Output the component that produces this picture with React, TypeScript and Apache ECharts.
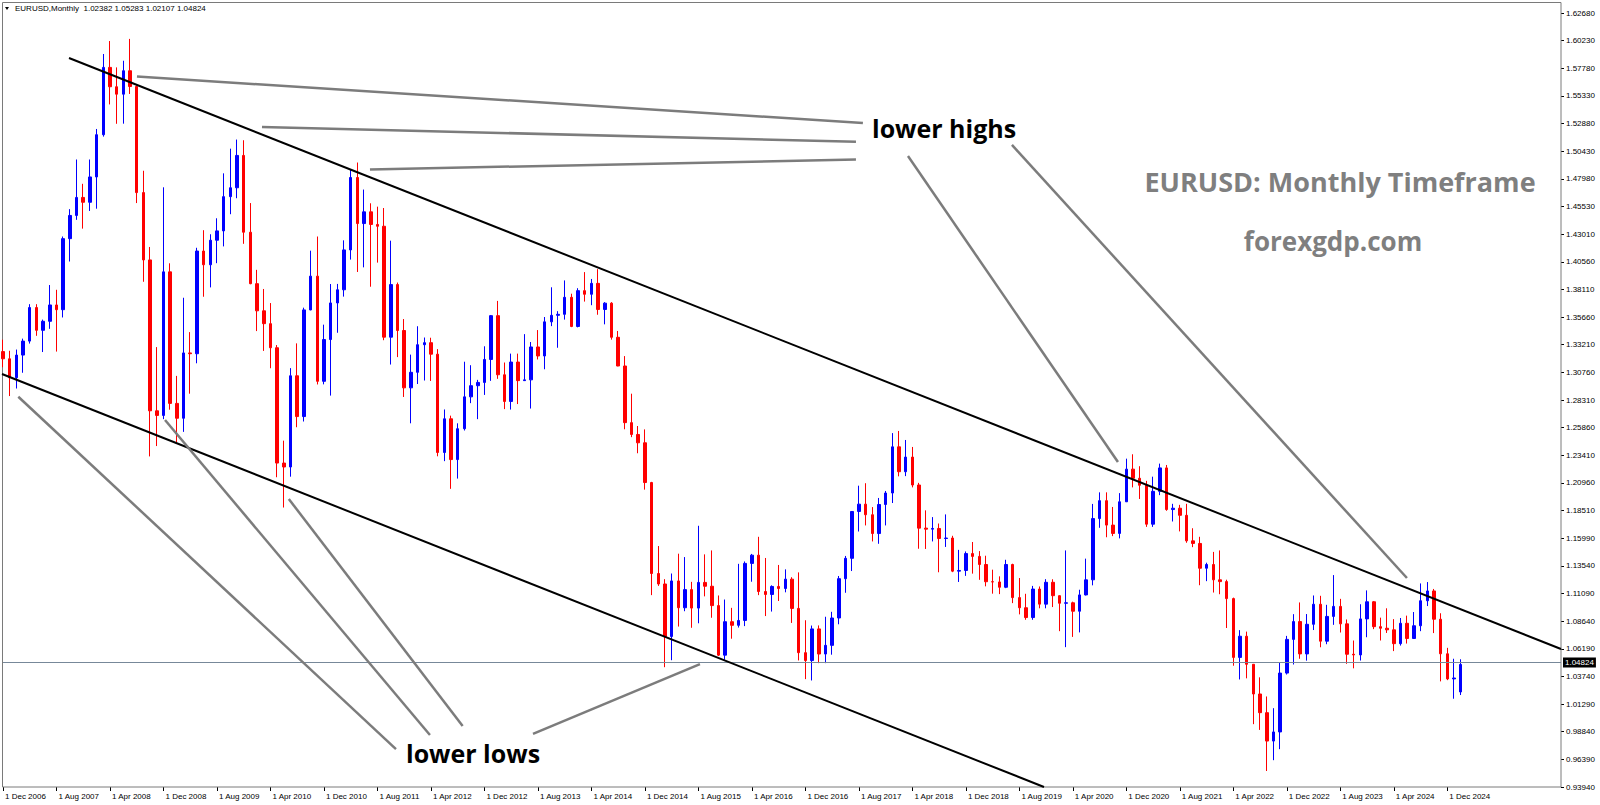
import React, { useEffect, useRef } from "react";
import * as echarts from "echarts";

// ---------- data (monthly EURUSD, Dec 2006 .. Feb 2025) ----------
const MONTH_NAMES = ["Jan", "Feb", "Mar", "Apr", "May", "Jun", "Jul", "Aug", "Sep", "Oct", "Nov", "Dec"];
const FIRST_YEAR = 2006;
const FIRST_MONTH = 11; // Dec
const SLOT_COUNT = 234; // visible month slots on the time axis

const opens = [
  1.3261,
  1.3197, 1.3029, 1.3230, 1.3354, 1.3652, 1.3450, 1.3530, 1.3675, 1.3633, 1.4264, 1.4470, 1.4630,
  1.4587, 1.4812, 1.5187, 1.5785, 1.5613, 1.5547, 1.5755, 1.5615, 1.4673, 1.4075, 1.2735, 1.2694,
  1.3969, 1.2801, 1.2669, 1.3249, 1.3242, 1.4154, 1.4032, 1.4250, 1.4333, 1.4637, 1.4716, 1.5003,
  1.4321, 1.3864, 1.3623, 1.3509, 1.3295, 1.2271, 1.2236, 1.3046, 1.2684, 1.3631, 1.3931, 1.2997,
  1.3368, 1.3693, 1.3810, 1.4164, 1.4807, 1.4398, 1.4502, 1.4390, 1.4374, 1.3389, 1.3856, 1.3448,
  1.2939, 1.3077, 1.3322, 1.3340, 1.3238, 1.2365, 1.2664, 1.2302, 1.2576, 1.2859, 1.2958, 1.2987,
  1.3191, 1.3580, 1.3055, 1.2818, 1.3168, 1.3003, 1.3010, 1.3302, 1.3222, 1.3525, 1.3583, 1.3592,
  1.3743, 1.3484, 1.3802, 1.3770, 1.3867, 1.3635, 1.3691, 1.3388, 1.3133, 1.2630, 1.2525, 1.2451,
  1.2098, 1.1290, 1.1197, 1.0731, 1.1224, 1.0986, 1.1147, 1.0983, 1.1211, 1.1177, 1.1005, 1.0565,
  1.0862, 1.0830, 1.0873, 1.1380, 1.1453, 1.1130, 1.1104, 1.1175, 1.1157, 1.1240, 1.0980, 1.0587,
  1.0517, 1.0798, 1.0575, 1.0652, 1.0895, 1.1244, 1.1425, 1.1841, 1.1906, 1.1812, 1.1645, 1.1903,
  1.2005, 1.2415, 1.2194, 1.2324, 1.2076, 1.1693, 1.1684, 1.1690, 1.1601, 1.1605, 1.1311, 1.1317,
  1.1467, 1.1442, 1.1370, 1.1217, 1.1215, 1.1168, 1.1370, 1.1076, 1.0986, 1.0899, 1.1152, 1.1018,
  1.1212, 1.1093, 1.1026, 1.1030, 1.0955, 1.1100, 1.1234, 1.1778, 1.1937, 1.1720, 1.1646, 1.1927,
  1.2217, 1.2136, 1.2074, 1.1728, 1.2020, 1.2228, 1.1858, 1.1870, 1.1807, 1.1580, 1.1557, 1.1337,
  1.1370, 1.1234, 1.1218, 1.1067, 1.0545, 1.0733, 1.0484, 1.0220, 1.0054, 0.9802, 0.9883, 1.0406,
  1.0705, 1.0863, 1.0576, 1.0839, 1.1017, 1.0689, 1.0909, 1.0998, 1.0843, 1.0573, 1.0567, 1.0887,
  1.1039, 1.0818, 1.0804, 1.0790, 1.0667, 1.0848, 1.0713, 1.0826, 1.1048, 1.1135, 1.0884, 1.0577,
  1.0354, 1.02382,
];

const highs = [
  1.3367,
  1.3268, 1.3279, 1.3376, 1.3682, 1.3682, 1.3545, 1.3852, 1.3810, 1.4283, 1.4526, 1.4967, 1.4751,
  1.4967, 1.5238, 1.5904, 1.6019, 1.5785, 1.5844, 1.6038, 1.5622, 1.4867, 1.4190, 1.3301, 1.4720,
  1.4045, 1.3045, 1.3739, 1.3434, 1.4183, 1.4339, 1.4303, 1.4445, 1.4844, 1.5063, 1.5144, 1.5138,
  1.4580, 1.3987, 1.3817, 1.3692, 1.3319, 1.2470, 1.3114, 1.3334, 1.3651, 1.4157, 1.4283, 1.3500,
  1.3861, 1.3862, 1.4249, 1.4882, 1.4940, 1.4700, 1.4578, 1.4548, 1.4536, 1.4246, 1.3874, 1.3550,
  1.3234, 1.3486, 1.3386, 1.3384, 1.3283, 1.2747, 1.2692, 1.2624, 1.3171, 1.3140, 1.3010, 1.3308,
  1.3586, 1.3711, 1.3164, 1.3243, 1.3243, 1.3416, 1.3346, 1.3452, 1.3568, 1.3832, 1.3620, 1.3893,
  1.3775, 1.3824, 1.3967, 1.3906, 1.3993, 1.3700, 1.3700, 1.3444, 1.3221, 1.2887, 1.2600, 1.2570,
  1.2104, 1.1534, 1.1240, 1.1290, 1.1466, 1.1436, 1.1216, 1.1714, 1.1460, 1.1495, 1.1095, 1.1059,
  1.0985, 1.1376, 1.1397, 1.1464, 1.1616, 1.1428, 1.1185, 1.1366, 1.1327, 1.1257, 1.1300, 1.0875,
  1.0828, 1.0829, 1.0906, 1.0950, 1.1268, 1.1446, 1.1845, 1.2070, 1.2092, 1.1880, 1.1961, 1.2023,
  1.2537, 1.2556, 1.2476, 1.2414, 1.2095, 1.1851, 1.1791, 1.1734, 1.1815, 1.1625, 1.1500, 1.1486,
  1.1570, 1.1489, 1.1448, 1.1324, 1.1265, 1.1412, 1.1377, 1.1250, 1.1110, 1.1180, 1.1175, 1.1240,
  1.1239, 1.1096, 1.1495, 1.1040, 1.1146, 1.1422, 1.1908, 1.2011, 1.2011, 1.1881, 1.2004, 1.2310,
  1.2349, 1.2243, 1.2113, 1.2150, 1.2266, 1.2254, 1.1909, 1.1900, 1.1909, 1.1692, 1.1616, 1.1386,
  1.1482, 1.1495, 1.1235, 1.1076, 1.0787, 1.0774, 1.0486, 1.0368, 1.0198, 1.0094, 1.0497, 1.0736,
  1.0929, 1.1033, 1.0930, 1.1095, 1.1092, 1.1012, 1.1276, 1.1065, 1.0882, 1.0695, 1.1017, 1.1140,
  1.1046, 1.0898, 1.0981, 1.0885, 1.0895, 1.0916, 1.0948, 1.1202, 1.1214, 1.1153, 1.0937, 1.0630,
  1.0533, 1.05283,
];

const lows = [
  1.3122,
  1.2866, 1.2933, 1.3073, 1.3332, 1.3401, 1.3257, 1.3463, 1.3261, 1.3564, 1.4061, 1.4431, 1.4353,
  1.4510, 1.4530, 1.5170, 1.5456, 1.5284, 1.5285, 1.5549, 1.4580, 1.3881, 1.2330, 1.2422, 1.2661,
  1.2745, 1.2456, 1.2548, 1.2887, 1.3157, 1.3748, 1.3831, 1.4046, 1.4195, 1.4481, 1.4623, 1.4218,
  1.3859, 1.3443, 1.3267, 1.3113, 1.2145, 1.1876, 1.2150, 1.2589, 1.2640, 1.3628, 1.2969, 1.2970,
  1.2870, 1.3428, 1.3749, 1.4078, 1.3968, 1.4009, 1.3837, 1.4051, 1.3362, 1.3146, 1.3212, 1.2858,
  1.2624, 1.2973, 1.3004, 1.3000, 1.2331, 1.2288, 1.2042, 1.2133, 1.2560, 1.2803, 1.2661, 1.2876,
  1.3001, 1.3019, 1.2750, 1.2746, 1.2795, 1.3000, 1.2755, 1.3191, 1.3104, 1.3487, 1.3295, 1.3545,
  1.3478, 1.3476, 1.3705, 1.3673, 1.3588, 1.3503, 1.3367, 1.3131, 1.2571, 1.2501, 1.2358, 1.2035,
  1.1098, 1.1180, 1.0458, 1.0520, 1.0819, 1.0955, 1.0808, 1.0848, 1.1087, 1.0897, 1.0557, 1.0524,
  1.0711, 1.0810, 1.0823, 1.1217, 1.1098, 1.0912, 1.0952, 1.1046, 1.1123, 1.0851, 1.0518, 1.0352,
  1.0340, 1.0494, 1.0494, 1.0569, 1.0839, 1.1119, 1.1312, 1.1663, 1.1717, 1.1575, 1.1554, 1.1717,
  1.1916, 1.2153, 1.2155, 1.2055, 1.1510, 1.1508, 1.1575, 1.1301, 1.1526, 1.1302, 1.1215, 1.1269,
  1.1289, 1.1234, 1.1176, 1.1111, 1.1107, 1.1160, 1.1027, 1.0927, 1.0879, 1.0879, 1.0981, 1.0981,
  1.0992, 1.0778, 1.0636, 1.0727, 1.0767, 1.1095, 1.1185, 1.1696, 1.1612, 1.1622, 1.1602, 1.1925,
  1.2055, 1.1952, 1.1704, 1.1704, 1.1986, 1.1847, 1.1752, 1.1664, 1.1563, 1.1524, 1.1186, 1.1222,
  1.1121, 1.1106, 1.0806, 1.0471, 1.0349, 1.0359, 0.9952, 0.9901, 0.9536, 0.9632, 0.9730, 1.0393,
  1.0482, 1.0533, 1.0516, 1.0788, 1.0635, 1.0662, 1.0834, 1.0766, 1.0488, 1.0448, 1.0517, 1.0724,
  1.0796, 1.0695, 1.0762, 1.0601, 1.0650, 1.0668, 1.0709, 1.0778, 1.1001, 1.0761, 1.0332, 1.0343,
  1.0178, 1.02107,
];

const closes = [
  1.3197,
  1.3029, 1.3230, 1.3354, 1.3652, 1.3450, 1.3530, 1.3675, 1.3633, 1.4264, 1.4470, 1.4630, 1.4587,
  1.4812, 1.5187, 1.5785, 1.5613, 1.5547, 1.5755, 1.5615, 1.4673, 1.4075, 1.2735, 1.2694, 1.3969,
  1.2801, 1.2669, 1.3249, 1.3242, 1.4154, 1.4032, 1.4250, 1.4333, 1.4637, 1.4716, 1.5003, 1.4321,
  1.3864, 1.3623, 1.3509, 1.3295, 1.2271, 1.2236, 1.3046, 1.2684, 1.3631, 1.3931, 1.2997, 1.3368,
  1.3693, 1.3810, 1.4164, 1.4807, 1.4398, 1.4502, 1.4390, 1.4374, 1.3389, 1.3856, 1.3448, 1.2939,
  1.3077, 1.3322, 1.3340, 1.3238, 1.2365, 1.2664, 1.2302, 1.2576, 1.2859, 1.2958, 1.2987, 1.3191,
  1.3580, 1.3055, 1.2818, 1.3168, 1.3003, 1.3010, 1.3302, 1.3222, 1.3525, 1.3583, 1.3592, 1.3743,
  1.3484, 1.3802, 1.3770, 1.3867, 1.3635, 1.3691, 1.3388, 1.3133, 1.2630, 1.2525, 1.2451, 1.2098,
  1.1290, 1.1197, 1.0731, 1.1224, 1.0986, 1.1147, 1.0983, 1.1211, 1.1177, 1.1005, 1.0565, 1.0862,
  1.0830, 1.0873, 1.1380, 1.1453, 1.1130, 1.1104, 1.1175, 1.1157, 1.1240, 1.0980, 1.0587, 1.0517,
  1.0798, 1.0575, 1.0652, 1.0895, 1.1244, 1.1425, 1.1841, 1.1906, 1.1812, 1.1645, 1.1903, 1.2005,
  1.2415, 1.2194, 1.2324, 1.2076, 1.1693, 1.1684, 1.1690, 1.1601, 1.1605, 1.1311, 1.1317, 1.1467,
  1.1442, 1.1370, 1.1217, 1.1215, 1.1168, 1.1370, 1.1076, 1.0986, 1.0899, 1.1152, 1.1018, 1.1212,
  1.1093, 1.1026, 1.1030, 1.0955, 1.1100, 1.1234, 1.1778, 1.1937, 1.1720, 1.1646, 1.1927, 1.2217,
  1.2136, 1.2074, 1.1728, 1.2020, 1.2228, 1.1858, 1.1870, 1.1807, 1.1580, 1.1557, 1.1337, 1.1370,
  1.1234, 1.1218, 1.1067, 1.0545, 1.0733, 1.0484, 1.0220, 1.0054, 0.9802, 0.9883, 1.0406, 1.0705,
  1.0863, 1.0576, 1.0839, 1.1017, 1.0689, 1.0909, 1.0998, 1.0843, 1.0573, 1.0567, 1.0887, 1.1039,
  1.0818, 1.0804, 1.0790, 1.0667, 1.0848, 1.0713, 1.0826, 1.1048, 1.1135, 1.0884, 1.0577, 1.0354,
  1.0362, 1.04824,
];

// price-scale tick labels (bottom to top)
const priceLabels = [
  "0.93940", "0.96390", "0.98840", "1.01290", "1.03740", "1.06190", "1.08640", "1.11090",
  "1.13540", "1.15990", "1.18510", "1.20960", "1.23410", "1.25860", "1.28310", "1.30760",
  "1.33210", "1.35660", "1.38110", "1.40560", "1.43010", "1.45530", "1.47980", "1.50430",
  "1.52880", "1.55330", "1.57780", "1.60230", "1.62680",
];
const PRICE_MIN = 0.9394;
const PRICE_MAX = 1.6268;

// channel lines: [monthIndex1, price1, monthIndex2, price2]
const channelLines = [
  [9.87, 1.5868, 233, 1.062],
  [-0.15, 1.3062, 155.68, 0.9394],
];
// grey pointer lines: [monthIndex1, price1, monthIndex2, price2]
const pointerLines = [
  [20.04, 1.5704, 128.6, 1.5291],
  [38.73, 1.5255, 127.56, 1.5125],
  [54.88, 1.4878, 127.56, 1.4967],
  [135.34, 1.4998, 166.74, 1.228],
  [150.89, 1.5096, 209.96, 1.125],
  [2.29, 1.286, 58.77, 0.9731],
  [24.23, 1.2653, 63.85, 0.9856],
  [42.74, 1.1952, 68.74, 0.9936],
  [79.26, 0.9865, 104.23, 1.0486],
];

const categories: string[] = [];
for (let i = 0; i < SLOT_COUNT; i++) {
  const m = (FIRST_MONTH + i) % 12;
  const y = FIRST_YEAR + Math.floor((FIRST_MONTH + i) / 12);
  categories.push(`1 ${MONTH_NAMES[m]} ${y}`);
}

const SMALL_FONT = "'Liberation Sans', Arial, sans-serif";
const BIG_FONT = "'Open Sans', 'Noto Sans', sans-serif";

export default function App() {
  const ref = useRef<HTMLDivElement>(null);

  useEffect(() => {
    if (!ref.current) return;
    const chart = echarts.init(ref.current, null, { renderer: "svg" });
    const n = opens.length;
    const candles = opens.map((o, i) => [o, closes[i], lows[i], highs[i]]);
    const showIdx = (index: number) => index % 8 === 0 && index < n;
    const last = closes[n - 1];

    chart.setOption({
      animation: false,
      backgroundColor: "#ffffff",
      grid: { left: 3, right: 39, top: 13, bottom: 18, containLabel: false },
      xAxis: {
        type: "category",
        data: categories,
        boundaryGap: false,
        axisLine: { show: false },
        axisTick: { show: true, interval: showIdx, length: 4, lineStyle: { color: "#000", width: 1 } },
        axisLabel: {
          interval: showIdx,
          align: "left",
          margin: 5,
          padding: [0, 0, 0, 2],
          fontSize: 8,
          fontFamily: SMALL_FONT,
          color: "#000",
        },
        splitLine: { show: false },
      },
      yAxis: [
        { type: "value", min: PRICE_MIN, max: PRICE_MAX, show: false, scale: true },
        {
          type: "value",
          min: 0,
          max: priceLabels.length - 1,
          interval: 1,
          position: "right",
          axisLine: { show: false },
          axisTick: { show: true, length: 3, lineStyle: { color: "#000" } },
          splitLine: { show: false },
          axisLabel: {
            margin: 5,
            fontSize: 8,
            fontFamily: SMALL_FONT,
            color: "#000",
            formatter: (v: number) => {
              const k = Math.round(v);
              return Math.abs(v - k) < 1e-6 ? priceLabels[k] ?? "" : "";
            },
          },
        },
      ],
      series: [
        {
          type: "candlestick",
          xAxisIndex: 0,
          yAxisIndex: 0,
          data: candles,
          barWidth: 3,
          clip: true,
          itemStyle: {
            color: "#0000ff",
            color0: "#ff0000",
            borderColor: "#0000ff",
            borderColor0: "#ff0000",
            borderWidth: 1,
          },
          markLine: {
            silent: true,
            symbol: ["none", "none"],
            lineStyle: { color: "#778899", width: 1, type: "solid" },
            label: {
              show: true,
              position: "end",
              distance: 2,
              formatter: () => last.toFixed(5),
              backgroundColor: "#000",
              color: "#fff",
              fontSize: 8,
              fontFamily: SMALL_FONT,
              padding: [1, 2, 1, 2],
            },
            data: [{ yAxis: last }],
          },
        },
      ],
    });

    const x0 = chart.convertToPixel({ xAxisIndex: 0 }, 0) as number;
    const x1 = chart.convertToPixel({ xAxisIndex: 0 }, 1) as number;
    const px = (i: number) => x0 + i * (x1 - x0);
    const py = (p: number) => chart.convertToPixel({ yAxisIndex: 0 }, p) as number;
    const bottomY = py(PRICE_MIN);
    const rightX = px(SLOT_COUNT - 1);

    const graphics: any[] = [];
    graphics.push({
      type: "rect",
      silent: true,
      z: 1,
      shape: { x: 2.5, y: 2.5, width: rightX - 2.5, height: bottomY - 2.5 },
      style: { fill: "none", stroke: "#7a7a7a", lineWidth: 1 },
    });
    channelLines.forEach((l) => {
      graphics.push({
        type: "line",
        silent: true,
        z: 20,
        shape: { x1: px(l[0]), y1: py(l[1]), x2: px(l[2]), y2: py(l[3]) },
        style: { stroke: "#000", lineWidth: 2 },
      });
    });
    pointerLines.forEach((l) => {
      graphics.push({
        type: "line",
        silent: true,
        z: 20,
        shape: { x1: px(l[0]), y1: py(l[1]), x2: px(l[2]), y2: py(l[3]) },
        style: { stroke: "#7c7c7c", lineWidth: 2.5 },
      });
    });
    graphics.push(
      {
        type: "polygon",
        silent: true,
        z: 20,
        shape: { points: [[5, 7], [9, 7], [7, 10]] },
        style: { fill: "#000" },
      },
      {
        type: "text",
        silent: true,
        z: 20,
        x: 15,
        y: 8.5,
        style: {
          text: `EURUSD,Monthly  ${opens[n - 1].toFixed(5)} ${highs[n - 1].toFixed(5)} ${lows[n - 1].toFixed(5)} ${closes[n - 1].toFixed(5)}`,
          fontSize: 8,
          fontFamily: SMALL_FONT,
          fill: "#000",
          align: "left",
          verticalAlign: "middle",
        },
      },
      {
        type: "text",
        silent: true,
        z: 20,
        x: 872,
        y: 128,
        style: {
          text: "lower highs",
          fontSize: 25,
          fontWeight: "bold",
          fontFamily: BIG_FONT,
          fill: "#000",
          align: "left",
          verticalAlign: "middle",
        },
      },
      {
        type: "text",
        silent: true,
        z: 20,
        x: 406,
        y: 753,
        style: {
          text: "lower lows",
          fontSize: 25,
          fontWeight: "bold",
          fontFamily: BIG_FONT,
          fill: "#000",
          align: "left",
          verticalAlign: "middle",
        },
      },
      {
        type: "text",
        silent: true,
        z: 20,
        x: 1340,
        y: 181,
        style: {
          text: "EURUSD: Monthly Timeframe",
          fontSize: 27,
          fontWeight: "bold",
          fontFamily: BIG_FONT,
          fill: "#7f7f7f",
          align: "center",
          verticalAlign: "middle",
        },
      },
      {
        type: "text",
        silent: true,
        z: 20,
        x: 1333,
        y: 241,
        style: {
          text: "forexgdp.com",
          fontSize: 26,
          fontWeight: "bold",
          fontFamily: BIG_FONT,
          fill: "#7f7f7f",
          align: "center",
          verticalAlign: "middle",
        },
      }
    );
    chart.setOption({ graphic: graphics });

    return () => chart.dispose();
  }, []);

  return (
    <div
      ref={ref}
      style={{ position: "fixed", left: 0, top: 0, width: 1600, height: 805, background: "#fff" }}
    />
  );
}
